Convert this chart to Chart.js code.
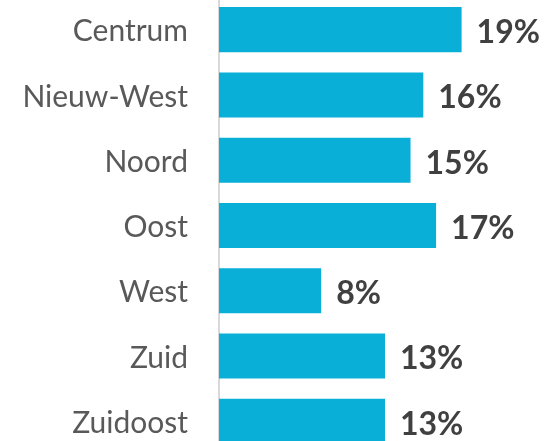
<!DOCTYPE html>
<html>
<head>
<meta charset="utf-8">
<script src="https://cdn.jsdelivr.net/npm/chart.js@4/dist/chart.umd.min.js"></script>
<style>
  html, body { margin: 0; padding: 0; background: #ffffff; overflow: hidden; }
  #chart { display: block; margin-top: -3px; }
</style>
</head>
<body>
<canvas id="chart" width="551" height="457"></canvas>
<script>
// Share per stadsdeel (percent)
const categories = ['Centrum', 'Nieuw-West', 'Noord', 'Oost', 'West', 'Zuid', 'Zuidoost'];
const values = [19, 16, 15, 17, 8, 13, 13];
const valueLabels = ['19%', '16%', '15%', '17%', '8%', '13%', '13%'];

// Writes the percentage just past the end of each bar
const valueLabelPlugin = {
  id: 'valueLabels',
  afterDatasetsDraw(chart) {
    const ctx = chart.ctx;
    const meta = chart.getDatasetMeta(0);
    ctx.save();
    ctx.font = 'bold 32px Lato';
    ctx.fillStyle = '#404040';
    ctx.textAlign = 'left';
    ctx.textBaseline = 'middle';
    meta.data.forEach((bar, i) => {
      ctx.fillText(valueLabels[i], bar.x + 15, bar.y + 3);
    });
    ctx.restore();
  }
};

new Chart(document.getElementById('chart'), {
  type: 'bar',
  data: {
    labels: categories,
    datasets: [{
      data: values,
      backgroundColor: '#0AAFD7',
      borderWidth: 0,
      categoryPercentage: 1,
      barPercentage: 0.69
    }]
  },
  options: {
    indexAxis: 'y',
    responsive: false,
    animation: false,
    layout: { padding: 0 },
    plugins: { legend: { display: false }, tooltip: { enabled: false } },
    scales: {
      x: { display: false, min: 0, max: 26 },
      y: {
        afterFit(scale) {
          scale.width = 219;
          scale.paddingTop = 0;
          scale.paddingBottom = 0;
        },
        grid: { display: false, drawTicks: false },
        border: { display: true, color: '#d9d9d9', width: 2 },
        ticks: {
          padding: 31,
          labelOffset: 2,
          autoSkip: false,
          color: '#595959',
          font: { family: 'Lato', size: 30 }
        }
      }
    }
  },
  plugins: [valueLabelPlugin]
});
</script>
</body>
</html>
